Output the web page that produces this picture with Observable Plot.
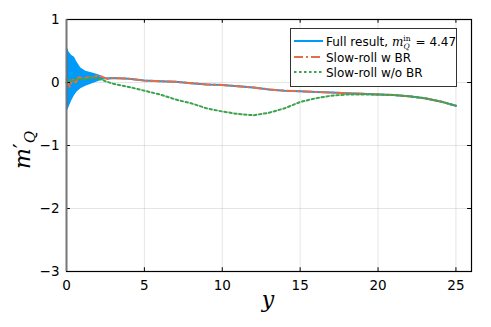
<!DOCTYPE html>
<html>
<head>
<meta charset="utf-8">
<script src="https://cdn.jsdelivr.net/npm/d3@7"></script>
<script src="https://cdn.jsdelivr.net/npm/@observablehq/plot@0.6"></script>
<style>
  body { margin: 0; background: #fff; }
  #chart { width: 491px; height: 327px; }
</style>
</head>
<body>
<div id="chart"></div>
<script>
// --- data ---
const xTicks = [0, 5, 10, 15, 20, 25];
const yTicks = [-3, -2, -1, 0, 1];

// envelope of the rapidly oscillating full result at small y
const bandX     = [0, 0.03, 0.17, 0.34, 0.51, 0.68, 0.92, 1.24, 1.67, 2.1, 2.4, 2.7, 3.0];
const bandUpper = [0.3, 0.57, 0.48, 0.43, 0.4, 0.32, 0.23, 0.18, 0.15, 0.12, 0.08, 0.07, 0.07];
const bandLower = [-0.3, -0.47, -0.39, -0.29, -0.21, -0.15, -0.1, -0.06, -0.02, 0.02, 0.04, 0.05, 0.06];

// Full result (smooth part) and slow-roll with back-reaction
const brX = [0, 0.2, 0.4, 0.6, 0.8, 1.0, 1.3, 1.6, 2.0, 2.3, 2.6, 3, 4, 5, 6, 7, 8, 9, 10, 11, 12, 13, 14, 15, 16, 17, 18, 19, 20, 21, 22, 23, 24, 25];
const brY = [0.05, -0.07, 0.05, 0.0, 0.1, 0.05, 0.08, 0.08, 0.11, 0.09, 0.06, 0.07, 0.06, 0.03, 0.02, 0.01, -0.01, -0.03, -0.04, -0.06, -0.08, -0.11, -0.13, -0.14, -0.15, -0.16, -0.17, -0.18, -0.19, -0.2, -0.22, -0.25, -0.3, -0.37];
const fullX = [2.6, 3, 4, 5, 6, 7, 8, 9, 10, 11, 12, 13, 14, 15, 16, 17, 18, 19, 20, 21, 22, 23, 24, 25];
const fullY = [0.06, 0.07, 0.06, 0.03, 0.02, 0.01, -0.01, -0.03, -0.04, -0.06, -0.08, -0.11, -0.13, -0.14, -0.15, -0.16, -0.17, -0.18, -0.19, -0.2, -0.22, -0.25, -0.3, -0.37];

// Slow-roll without back-reaction
const noBrX = [0, 0.2, 0.4, 0.7, 1, 1.5, 2, 2.5, 3, 4, 5, 6, 7, 8, 9, 10, 11, 12, 13, 14, 15, 16, 17, 18, 19, 20, 21, 22, 23, 24, 25];
const noBrY = [0.0, 0.05, 0.02, 0.06, 0.05, 0.07, 0.07, 0.02, -0.02, -0.07, -0.13, -0.19, -0.27, -0.33, -0.41, -0.46, -0.5, -0.52, -0.48, -0.41, -0.31, -0.25, -0.21, -0.19, -0.19, -0.19, -0.2, -0.22, -0.25, -0.3, -0.37];

const seriesNames = ["Full result, ", "Slow-roll w BR", "Slow-roll w/o BR"];
const colors = ["#009af9", "#e26f46", "#3da44d"];

// --- tables ---
const band = bandX.map((x, i) => ({x, lo: bandLower[i], hi: bandUpper[i]}));
const full = fullX.map((x, i) => ({x, y: fullY[i]}));
const br = brX.map((x, i) => ({x, y: brY[i]}));
const noBr = noBrX.map((x, i) => ({x, y: noBrY[i]}));

const fmt = d => (d < 0 ? "\u2212" + Math.abs(d) : String(d));

const X0 = 0, X1 = 26, Y0 = -3, Y1 = 1;
const plot = Plot.plot({
  width: 491,
  height: 327,
  marginLeft: 66,
  marginRight: 20,
  marginTop: 19,
  marginBottom: 56,
  style: {fontFamily: "DejaVu Sans, sans-serif", fontSize: "13px", background: "white", color: "black"},
  x: {domain: [X0, X1]},
  y: {domain: [Y0, Y1]},
  marks: [
    Plot.gridX(xTicks, {stroke: "#000", strokeOpacity: 0.1, strokeWidth: 1}),
    Plot.gridY(yTicks, {stroke: "#000", strokeOpacity: 0.1, strokeWidth: 1}),
    Plot.axisX(xTicks, {tickSize: 0, tickPadding: 9, label: null, fontSize: 13.5, tickFormat: fmt}),
    Plot.axisY(yTicks, {tickSize: 0, tickPadding: 7, label: null, fontSize: 13.5, tickFormat: fmt}),
    Plot.areaY(band, {x: "x", y1: "lo", y2: "hi", fill: colors[0], curve: "linear"}),
    Plot.line(full, {x: "x", y: "y", stroke: colors[0], strokeWidth: 2}),
    Plot.line(br, {x: "x", y: "y", stroke: colors[1], strokeWidth: 2, strokeDasharray: "9,3,2,3"}),
    Plot.line(noBr, {x: "x", y: "y", stroke: colors[2], strokeWidth: 2, strokeDasharray: "2.5,2.5"}),
    // inward ticks on all four sides
    Plot.ruleX(xTicks, {y1: Y0, y2: Y0 + 0.06, stroke: "black", strokeWidth: 1}),
    Plot.ruleX(xTicks, {y1: Y1, y2: Y1 - 0.06, stroke: "black", strokeWidth: 1}),
    Plot.ruleY(yTicks, {x1: X0, x2: X0 + 0.25, stroke: "black", strokeWidth: 1}),
    Plot.ruleY(yTicks, {x1: X1, x2: X1 - 0.25, stroke: "black", strokeWidth: 1}),
    Plot.frame({stroke: "black", strokeWidth: 1.2}),
    Plot.ruleX([X0], {stroke: "#777", strokeWidth: 1.8})
  ]
});

const svg = d3.select(plot);

// axis labels (math style)
svg.append("text")
  .attr("x", 268).attr("y", 307)
  .attr("text-anchor", "middle")
  .attr("font-family", "DejaVu Serif, serif")
  .attr("font-style", "italic")
  .attr("font-size", 22)
  .text("y");

const yl = svg.append("text")
  .attr("transform", "translate(30,150) rotate(-90)")
  .attr("text-anchor", "middle")
  .attr("font-family", "DejaVu Serif, serif")
  .attr("font-style", "italic")
  .attr("font-size", 22);
yl.append("tspan").text("m");
yl.append("tspan").attr("font-style", "normal").attr("dy", -1).text("\u2032");
yl.append("tspan").attr("font-size", 15).attr("dy", 6).text("Q");

// legend
const lg = svg.append("g").attr("font-family", "DejaVu Sans, sans-serif").attr("font-size", 12).attr("text-anchor", "start");
lg.append("rect").attr("x", 290.5).attr("y", 28.5).attr("width", 166).attr("height", 58)
  .attr("fill", "white").attr("stroke", "#333").attr("stroke-width", 1);
const rows = [41, 57, 72];
const dashes = [null, "9,3,2,3", "2.5,2.5"];
rows.forEach((ry, i) => {
  const ln = lg.append("line").attr("x1", 294).attr("x2", 323).attr("y1", ry).attr("y2", ry)
    .attr("stroke", colors[i]).attr("stroke-width", 2);
  if (dashes[i]) ln.attr("stroke-dasharray", dashes[i]);
  const t = lg.append("text").attr("x", 326).attr("y", ry + 4.5).attr("text-anchor", "start").text(seriesNames[i]);
  if (i === 0) {
    t.append("tspan").attr("font-family", "DejaVu Serif, serif").attr("font-style", "italic").text("m");
    t.append("tspan").attr("font-family", "DejaVu Serif, serif").attr("font-size", 7.5).attr("dy", -5).text("in");
    t.append("tspan").attr("font-family", "DejaVu Serif, serif").attr("font-style", "italic").attr("font-size", 7.5).attr("dx", -7).attr("dy", 8).text("Q");
    t.append("tspan").attr("dx", 2).attr("dy", -3).text(" = 4.47");
  }
});

document.getElementById("chart").appendChild(plot);
</script>
</body>
</html>
